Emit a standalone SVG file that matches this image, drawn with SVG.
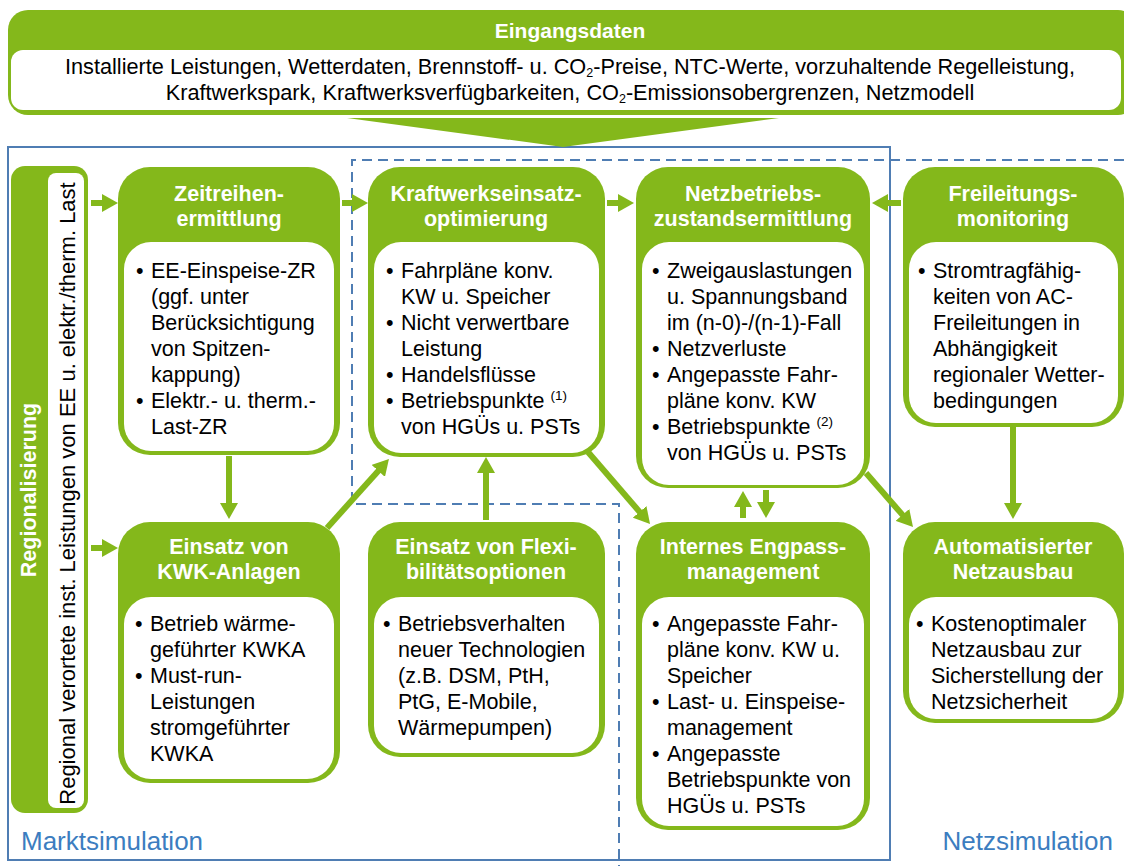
<svg xmlns="http://www.w3.org/2000/svg" width="1124" height="866" viewBox="0 0 1124 866">
<defs>
<style>
.g{fill:#84B81B}
.w{fill:#FFFFFF}
.t{font-family:"Liberation Sans",Arial,sans-serif;font-weight:bold;font-size:21.5px;fill:#FFFFFF;text-anchor:middle}
.b{font-family:"Liberation Sans",Arial,sans-serif;font-size:21.5px;fill:#000000}
.h{font-family:"Liberation Sans",Arial,sans-serif;font-size:21.7px;fill:#000000;text-anchor:middle}
.sup{font-size:13.5px}
.sub{font-size:12.5px}
.lab{font-family:"Liberation Sans",Arial,sans-serif;font-size:26px;fill:#3C7DC0}
.ar{stroke:#84B81B;stroke-width:6;fill:none;marker-end:url(#ah)}
</style>
<marker id="ah" markerUnits="userSpaceOnUse" markerWidth="16" markerHeight="18" refX="2" refY="9" orient="auto">
<path d="M0,0 L16,9 L0,18 Z" fill="#84B81B"/>
</marker>
</defs>
<rect width="1124" height="866" fill="#FFFFFF"/>

<g id="frames">
<rect x="8" y="147" width="882" height="713" fill="none" stroke="#4F7DB3" stroke-width="2"/>
<path d="M1124,160 H352 V504 H619 V866" fill="none" stroke="#4F7DB3" stroke-width="2" stroke-dasharray="10 6"/>
<text class="lab" x="21" y="850">Marktsimulation</text>
<text class="lab" x="1113" y="850" text-anchor="end">Netzsimulation</text>
</g>

<g id="eingangsdaten">
<rect class="g" x="8" y="10" width="1130" height="105" rx="20"/>
<rect class="w" x="11" y="50" width="1110" height="60" rx="12"/>
<polygon class="g" points="347,118 779,118 563,147"/>
<text class="t" x="570" y="38" style="font-size:21px">Eingangsdaten</text>
<text class="h" x="570" y="74">Installierte Leistungen, Wetterdaten, Brennstoff- u. CO<tspan class="sub" dy="3">2</tspan><tspan dy="-3">-Preise, NTC-Werte, vorzuhaltende Regelleistung,</tspan></text>
<text class="h" x="570" y="100">Kraftwerkspark, Kraftwerksverfügbarkeiten, CO<tspan class="sub" dy="3">2</tspan><tspan dy="-3">-Emissionsobergrenzen, Netzmodell</tspan></text>
</g>

<g id="regionalisierung">
<rect class="g" x="11" y="166" width="77" height="647" rx="14"/>
<rect class="w" x="48" y="173" width="36" height="635" rx="8"/>
<text class="t" transform="translate(36,490) rotate(-90)" x="0" y="0">Regionalisierung</text>
<text class="b" transform="translate(74.5,493.5) rotate(-90)" x="0" y="0" style="font-size:22px;text-anchor:middle">Regional verortete inst. Leistungen von EE u. elektr./therm. Last</text>
</g>

<g id="zeitreihen">
<rect class="g" x="118" y="167" width="222" height="288" rx="32"/>
<rect class="w" x="124" y="242" width="210" height="209" rx="27"/>
<text class="t" x="229" y="201">Zeitreihen-</text>
<text class="t" x="229" y="226">ermittlung</text>
<text class="b"><tspan x="136" y="278">•</tspan><tspan x="151" y="278">EE-Einspeise-ZR</tspan><tspan x="151" y="304">(ggf. unter</tspan><tspan x="151" y="330">Berücksichtigung</tspan><tspan x="151" y="356">von Spitzen-</tspan><tspan x="151" y="382">kappung)</tspan><tspan x="136" y="408">•</tspan><tspan x="151" y="408">Elektr.- u. therm.-</tspan><tspan x="151" y="434">Last-ZR</tspan></text>
</g>

<g id="kraftwerk">
<rect class="g" x="368" y="167" width="237" height="290" rx="32"/>
<rect class="w" x="374" y="242" width="225" height="211" rx="27"/>
<text class="t" x="486" y="201">Kraftwerkseinsatz-</text>
<text class="t" x="486" y="226">optimierung</text>
<text class="b"><tspan x="386" y="278">•</tspan><tspan x="401" y="278">Fahrpläne konv.</tspan><tspan x="401" y="304">KW u. Speicher</tspan><tspan x="386" y="330">•</tspan><tspan x="401" y="330">Nicht verwertbare</tspan><tspan x="401" y="356">Leistung</tspan><tspan x="386" y="382">•</tspan><tspan x="401" y="382">Handelsflüsse</tspan><tspan x="386" y="408">•</tspan><tspan x="401" y="408">Betriebspunkte </tspan><tspan class="sup" dy="-8">(1)</tspan><tspan x="401" y="434">von HGÜs u. PSTs</tspan></text>
</g>

<g id="netzbetrieb">
<rect class="g" x="636" y="167" width="234" height="321" rx="32"/>
<rect class="w" x="642" y="242" width="222" height="243" rx="27"/>
<text class="t" x="753" y="201">Netzbetriebs-</text>
<text class="t" x="753" y="226">zustandsermittlung</text>
<text class="b"><tspan x="652" y="278">•</tspan><tspan x="667" y="278">Zweigauslastungen</tspan><tspan x="667" y="304">u. Spannungsband</tspan><tspan x="667" y="330">im (n-0)-/(n-1)-Fall</tspan><tspan x="652" y="356">•</tspan><tspan x="667" y="356">Netzverluste</tspan><tspan x="652" y="382">•</tspan><tspan x="667" y="382">Angepasste Fahr-</tspan><tspan x="667" y="408">pläne konv. KW</tspan><tspan x="652" y="434">•</tspan><tspan x="667" y="434">Betriebspunkte </tspan><tspan class="sup" dy="-8">(2)</tspan><tspan x="667" y="460">von HGÜs u. PSTs</tspan></text>
</g>

<g id="freileitung">
<rect class="g" x="903" y="167" width="221" height="260" rx="32"/>
<rect class="w" x="909" y="242" width="209" height="181" rx="27"/>
<text class="t" x="1013" y="201">Freileitungs-</text>
<text class="t" x="1013" y="226">monitoring</text>
<text class="b"><tspan x="918" y="278">•</tspan><tspan x="933" y="278">Stromtragfähig-</tspan><tspan x="933" y="304">keiten von AC-</tspan><tspan x="933" y="330">Freileitungen in</tspan><tspan x="933" y="356">Abhängigkeit</tspan><tspan x="933" y="382">regionaler Wetter-</tspan><tspan x="933" y="408">bedingungen</tspan></text>
</g>

<g id="kwk">
<rect class="g" x="118" y="522" width="222" height="261" rx="32"/>
<rect class="w" x="124" y="597" width="210" height="182" rx="27"/>
<text class="t" x="229" y="554">Einsatz von</text>
<text class="t" x="229" y="579">KWK-Anlagen</text>
<text class="b"><tspan x="135" y="631">•</tspan><tspan x="150" y="631">Betrieb wärme-</tspan><tspan x="150" y="657">geführter KWKA</tspan><tspan x="135" y="683">•</tspan><tspan x="150" y="683">Must-run-</tspan><tspan x="150" y="709">Leistungen</tspan><tspan x="150" y="735">stromgeführter</tspan><tspan x="150" y="761">KWKA</tspan></text>
</g>

<g id="flexi">
<rect class="g" x="368" y="522" width="237" height="235" rx="32"/>
<rect class="w" x="374" y="597" width="225" height="156" rx="27"/>
<text class="t" x="486" y="554">Einsatz von Flexi-</text>
<text class="t" x="486" y="579">bilitätsoptionen</text>
<text class="b"><tspan x="383" y="631">•</tspan><tspan x="398" y="631">Betriebsverhalten</tspan><tspan x="398" y="657">neuer Technologien</tspan><tspan x="398" y="683">(z.B. DSM, PtH,</tspan><tspan x="398" y="709">PtG, E-Mobile,</tspan><tspan x="398" y="735">Wärmepumpen)</tspan></text>
</g>

<g id="engpass">
<rect class="g" x="636" y="522" width="234" height="308" rx="32"/>
<rect class="w" x="642" y="597" width="222" height="229" rx="27"/>
<text class="t" x="753" y="554">Internes Engpass-</text>
<text class="t" x="753" y="579">management</text>
<text class="b"><tspan x="652" y="631">•</tspan><tspan x="667" y="631">Angepasste Fahr-</tspan><tspan x="667" y="657">pläne konv. KW u.</tspan><tspan x="667" y="683">Speicher</tspan><tspan x="652" y="709">•</tspan><tspan x="667" y="709">Last- u. Einspeise-</tspan><tspan x="667" y="735">management</tspan><tspan x="652" y="761">•</tspan><tspan x="667" y="761">Angepasste</tspan><tspan x="667" y="787">Betriebspunkte von</tspan><tspan x="667" y="813">HGÜs u. PSTs</tspan></text>
</g>

<g id="netzausbau">
<rect class="g" x="903" y="522" width="221" height="201" rx="32"/>
<rect class="w" x="909" y="597" width="209" height="122" rx="27"/>
<text class="t" x="1013" y="554">Automatisierter</text>
<text class="t" x="1013" y="579">Netzausbau</text>
<text class="b"><tspan x="916" y="631">•</tspan><tspan x="931" y="631">Kostenoptimaler</tspan><tspan x="931" y="657">Netzausbau zur</tspan><tspan x="931" y="683">Sicherstellung der</tspan><tspan x="931" y="709">Netzsicherheit</tspan></text>
</g>

<g id="connectors">
<line class="ar" x1="91" y1="203" x2="104" y2="203"/>
<line class="ar" x1="91" y1="548" x2="104" y2="548"/>
<line class="ar" x1="342" y1="203" x2="354" y2="203"/>
<line class="ar" x1="607" y1="203" x2="620" y2="203"/>
<line class="ar" x1="901" y1="203" x2="886" y2="203"/>
<line class="ar" x1="229" y1="456" x2="229" y2="505"/>
<line class="ar" x1="327" y1="528" x2="379.6" y2="469.4"/>
<line class="ar" x1="486" y1="520" x2="486" y2="471"/>
<line class="ar" x1="588" y1="452" x2="640.9" y2="513.4"/>
<line class="ar" x1="743" y1="518" x2="743" y2="505"/>
<line class="ar" x1="766" y1="490" x2="766" y2="504"/>
<line class="ar" x1="866" y1="473" x2="903.8" y2="516.4"/>
<line class="ar" x1="1013" y1="427" x2="1013" y2="505"/>
</g>
</svg>
